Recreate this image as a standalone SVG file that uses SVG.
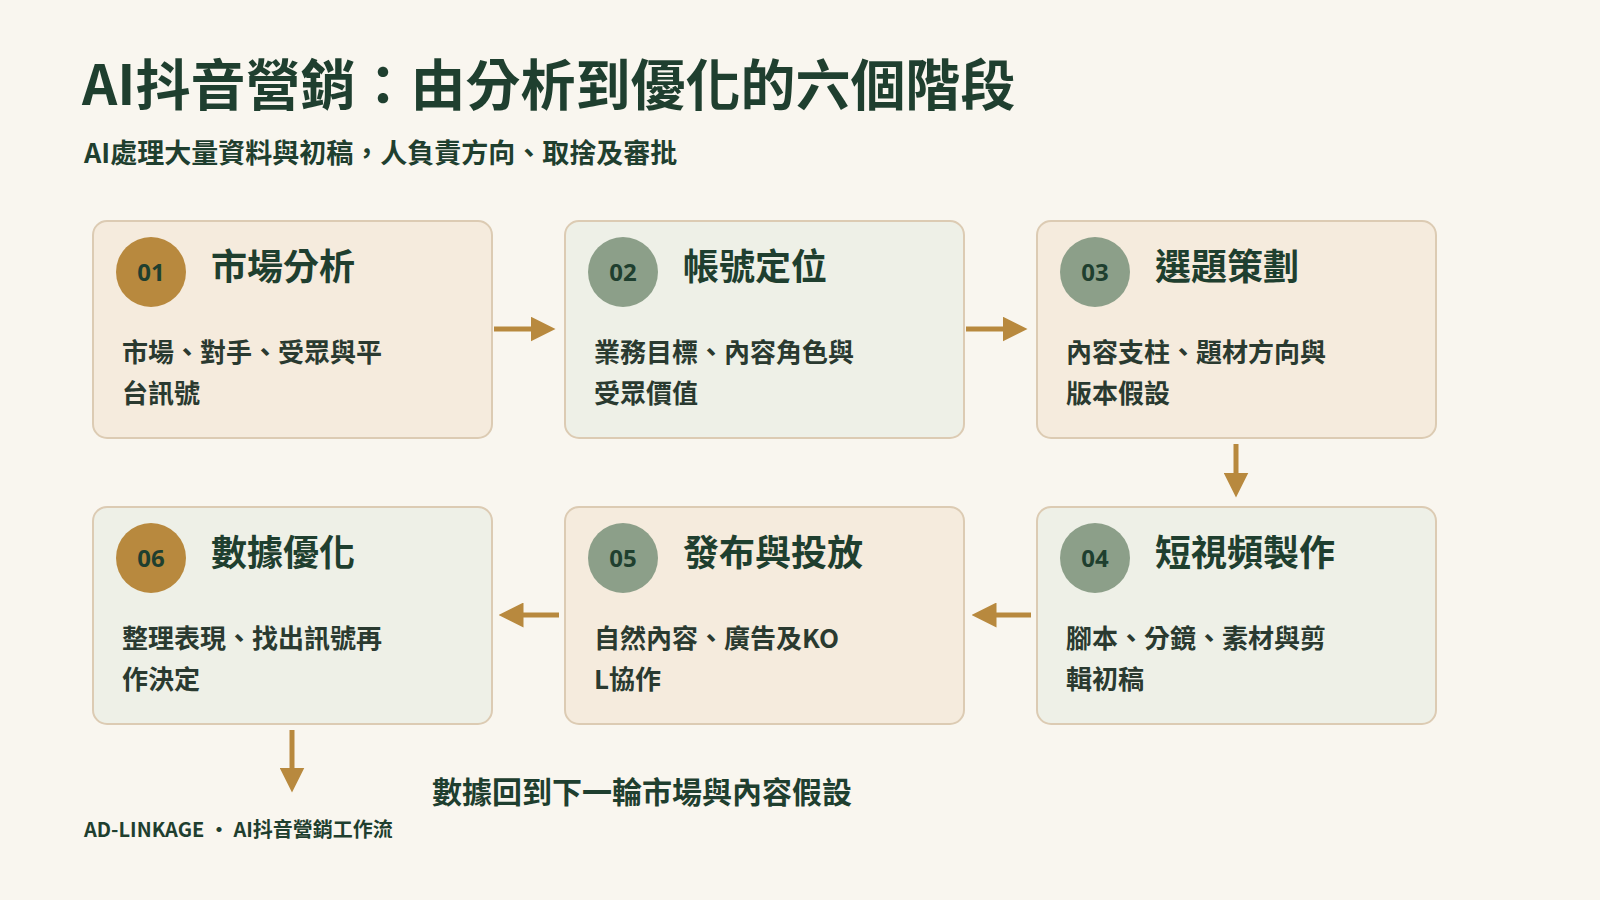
<svg xmlns="http://www.w3.org/2000/svg" width="1600" height="900" viewBox="0 0 1600 900">
<style>
text{font-family:"Noto Sans CJK TC","Noto Sans",sans-serif;fill:#1f3f2f;font-weight:700}
.b{stroke:#dccbb3;stroke-width:2}
.bw{fill:#f5ebdd}.bg{fill:#eef0e7}
.cg{fill:#b8893e}.cs{fill:#8c9f89}
.num{font-size:24px;text-anchor:middle;font-family:"Noto Sans","Open Sans",sans-serif}
.t{font-size:36px}.d{font-size:26px;fill:#2a3a30}
.a{stroke:#b8893e;stroke-width:5;fill:none;marker-end:url(#ah)}
</style>
<defs><marker id="ah" markerWidth="5" markerHeight="5" refX="2.5" refY="2.5" orient="auto"><path d="M0,0L5,2.5L0,5z" fill="#b8893e"/></marker></defs>
<rect width="1600" height="900" fill="#f9f6ef"/>
<text x="82" y="105" font-size="55">AI抖音營銷：由分析到優化的六個階段</text>
<text x="84" y="163" font-size="27">AI處理大量資料與初稿，人負責方向、取捨及審批</text>
<g id="n1"><rect class="b bw" x="93" y="221" width="399" height="217" rx="14"/><circle class="cg" cx="151" cy="272" r="35"/><text class="num" x="151" y="281">01</text><text class="t" x="211" y="280">市場分析</text><text class="d" x="122" y="362">市場、對手、受眾與平</text><text class="d" x="122" y="403">台訊號</text></g>
<g id="n2"><rect class="b bg" x="565" y="221" width="399" height="217" rx="14"/><circle class="cs" cx="623" cy="272" r="35"/><text class="num" x="623" y="281">02</text><text class="t" x="683" y="280">帳號定位</text><text class="d" x="594" y="362">業務目標、內容角色與</text><text class="d" x="594" y="403">受眾價值</text></g>
<g id="n3"><rect class="b bw" x="1037" y="221" width="399" height="217" rx="14"/><circle class="cs" cx="1095" cy="272" r="35"/><text class="num" x="1095" y="281">03</text><text class="t" x="1155" y="280">選題策劃</text><text class="d" x="1066" y="362">內容支柱、題材方向與</text><text class="d" x="1066" y="403">版本假設</text></g>
<g id="n4"><rect class="b bg" x="1037" y="507" width="399" height="217" rx="14"/><circle class="cs" cx="1095" cy="558" r="35"/><text class="num" x="1095" y="567">04</text><text class="t" x="1155" y="566">短視頻製作</text><text class="d" x="1066" y="648">腳本、分鏡、素材與剪</text><text class="d" x="1066" y="689">輯初稿</text></g>
<g id="n5"><rect class="b bw" x="565" y="507" width="399" height="217" rx="14"/><circle class="cs" cx="623" cy="558" r="35"/><text class="num" x="623" y="567">05</text><text class="t" x="683" y="566">發布與投放</text><text class="d" x="594" y="648">自然內容、廣告及KO</text><text class="d" x="594" y="689">L協作</text></g>
<g id="n6"><rect class="b bg" x="93" y="507" width="399" height="217" rx="14"/><circle class="cg" cx="151" cy="558" r="35"/><text class="num" x="151" y="567">06</text><text class="t" x="211" y="566">數據優化</text><text class="d" x="122" y="648">整理表現、找出訊號再</text><text class="d" x="122" y="689">作決定</text></g>
<g id="connectors">
<path class="a" d="M494,329H543"/><path class="a" d="M966,329H1015"/>
<path class="a" d="M1236,444V485"/>
<path class="a" d="M1031,615H984"/><path class="a" d="M559,615H511"/>
<path class="a" d="M292,730V780"/>
</g>
<text x="432" y="803" font-size="30">數據回到下一輪市場與內容假設</text>
<text x="84" y="837" font-size="20">AD-LINKAGE ・ AI抖音營銷工作流</text>
</svg>
